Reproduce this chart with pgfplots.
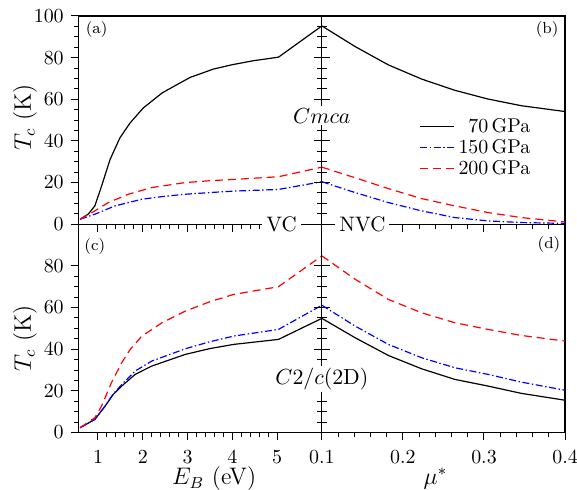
\documentclass[border=0pt]{standalone}
\usepackage{pgfplots}
\pgfplotsset{compat=1.18}
\usepgfplotslibrary{groupplots}

\pgfplotsset{
  cA/.style={black, line width=0.6pt},
  cB/.style={blue, line width=0.6pt, dash pattern=on 3.5pt off 1.3pt on 0.7pt off 1.3pt},
  cC/.style={red, line width=0.6pt, dash pattern=on 4pt off 2.5pt},
  legend image code/.code={\draw[#1] (0pt,0pt) -- (17pt,0pt);},
}
\tikzset{panel/.style={font=\footnotesize}}

\begin{document}
\begin{tikzpicture}
\begin{groupplot}[
    group style={group size=2 by 2, horizontal sep=0pt, vertical sep=0pt},
    scale only axis,
    width=122pt, height=104.5pt,
    ymin=0, ymax=100,
    tick align=outside,
    major tick length=4pt, minor tick length=2.5pt,
    minor y tick num=3,
    axis line style={line width=0.6pt},
    every tick/.style={line width=0.5pt},
    tick label style={font=\fontsize{10}{12}\selectfont},
    xticklabel style={yshift=-1.5pt},
    label style={font=\fontsize{12}{14}\selectfont},
  ]
% (a)
\nextgroupplot[xmin=0.57, xmax=6, xtick={1,2,3,4,5}, minor x tick num=4,
  xticklabels={}, xtick pos=bottom, ytick pos=both,
  ytick={0,20,...,100}, ylabel={$T_c$ (K)},
  ylabel style={at={(axis description cs:-0.221,0.514)}, anchor=center}]
\addplot[cA] coordinates {(0.6,2.4) (0.78,4.8) (0.93,8.8) (1.08,18.3) (1.27,31.1) (1.49,41.5) (1.72,48.7) (2.01,55.8) (2.43,63) (2.72,66.5) (3.06,70.5) (3.58,74.5) (4.0,76.6) (4.47,78.5) (5.03,80.2) (6,95.2)};
\addplot[cB] coordinates {(0.6,2.4) (0.93,4.8) (1.38,8.8) (1.98,12) (2.45,13.3) (2.95,14.4) (3.5,15.2) (4.03,15.9) (5.03,16.7) (6,20.4)};
\addplot[cC] coordinates {(0.6,2.4) (0.93,6.4) (1.23,10.4) (1.68,14.4) (2.2,17.6) (2.95,20) (3.5,20.9) (4.03,21.5) (5.03,22.8) (6,27.4)};
\node[panel] at (rel axis cs:0.074,0.933) {(a)};
\coordinate (vc) at (axis cs:5.1,0);
% (b)
\nextgroupplot[xmin=0.1, xmax=0.4, xtick={0.1,0.2,0.3,0.4}, minor x tick num=4,
  xticklabels={}, yticklabels={}, xtick pos=bottom, ytick pos=left,
  ytick={0,20,...,100},
  legend style={draw=none, fill=none, at={(rel axis cs:0.375,0.55)}, anchor=north west,
    font=\fontsize{10}{10}\selectfont, row sep=-2pt, legend cell align=right}]
\addplot[cA] coordinates {(0.1,95.2) (0.141,85.3) (0.182,76.5) (0.223,69.7) (0.264,64.3) (0.305,60.1) (0.346,56.9) (0.4,54.1)};
\addlegendentry{70\,GPa}
\addplot[cB] coordinates {(0.1,20.4) (0.141,15.2) (0.182,10.4) (0.223,6.4) (0.264,3.2) (0.305,1.6) (0.346,0.8) (0.4,0.4)};
\addlegendentry{150\,GPa}
\addplot[cC] coordinates {(0.1,27.4) (0.141,22.3) (0.182,17.1) (0.223,12.3) (0.264,8.8) (0.305,5.6) (0.346,3.2) (0.4,1.1)};
\addlegendentry{200\,GPa}
\node[panel] at (rel axis cs:0.926,0.933) {(b)};
\coordinate (cmca) at (rel axis cs:0,0.52);
\coordinate (nvc) at (axis cs:0.15,0);
\coordinate (ur) at (rel axis cs:1,1);
% (c)
\nextgroupplot[xmin=0.57, xmax=6, xtick={1,2,3,4,5}, minor x tick num=4,
  xtick pos=bottom, ytick pos=both,
  ytick={0,20,...,80}, ylabel={$T_c$ (K)},
  ylabel style={at={(axis description cs:-0.221,0.452)}, anchor=center},
  xlabel={$E_B$ (eV)}, xlabel style={at={(axis description cs:0.557,-0.222)}, anchor=center}]
\addplot[cA] coordinates {(0.6,2.3) (0.93,6.3) (1.16,12.7) (1.34,18.3) (1.53,22.3) (1.83,27.9) (2.2,31.9) (2.95,37.5) (3.5,40.3) (4.03,42.3) (5.03,44.7) (6,54.8)};
\addplot[cB] coordinates {(0.6,2.3) (0.93,6.3) (1.16,12.7) (1.34,18.5) (1.53,23) (1.83,29.5) (2.2,34.3) (2.95,40.2) (3.5,43.6) (4.03,46.3) (5.03,49.5) (6,61.1)};
\addplot[cC] coordinates {(0.6,2.3) (0.93,7.1) (1.08,12.7) (1.3,23.9) (1.53,33.5) (1.72,39.9) (1.98,46.3) (2.43,52.7) (2.95,58.3) (3.5,62.8) (4.03,66.3) (5.03,70) (6,84.8)};
\node[panel] at (rel axis cs:0.066,0.894) {(c)};
\coordinate (ll) at (rel axis cs:0,0);
% (d)
\nextgroupplot[xmin=0.1, xmax=0.4, xtick={0.1,0.2,0.3,0.4}, minor x tick num=4,
  xtick pos=bottom, ytick pos=left, yticklabels={},
  ytick={0,20,...,80},
  xlabel={$\mu^*$}, xlabel style={at={(axis description cs:0.467,-0.222)}, anchor=center},
  xticklabel style={/pgf/number format/fixed, /pgf/number format/precision=1}]
\addplot[cA] coordinates {(0.1,54.8) (0.141,45.5) (0.182,37) (0.223,30.6) (0.264,25.5) (0.305,22.3) (0.346,18.8) (0.4,15.5)};
\addplot[cB] coordinates {(0.1,61.1) (0.141,51.1) (0.182,42.3) (0.223,35.9) (0.264,31.1) (0.305,27.9) (0.346,24.2) (0.4,20.3)};
\addplot[cC] coordinates {(0.1,84.8) (0.141,73.6) (0.182,63.9) (0.223,57.5) (0.264,52.7) (0.305,49.5) (0.346,46.6) (0.4,43.9)};
\node[panel] at (rel axis cs:0.934,0.904) {(d)};
\coordinate (c2c) at (rel axis cs:0,0.255);
\end{groupplot}
\begin{scope}[every node/.style={fill=white, inner xsep=2pt, inner ysep=1pt, font=\fontsize{10.5}{12}\selectfont}]
\node at (cmca) {$Cmca$};
\node at (c2c) {$C2/c(2\mathrm{D})$};
\node at (vc) {VC};
\node at (nvc) {NVC};
\end{scope}
\pgfresetboundingbox
\path[use as bounding box] ([shift={(-39.5pt,-28.5pt)}]ll) rectangle ([shift={(6pt,8pt)}]ur);
\end{tikzpicture}
\end{document}
